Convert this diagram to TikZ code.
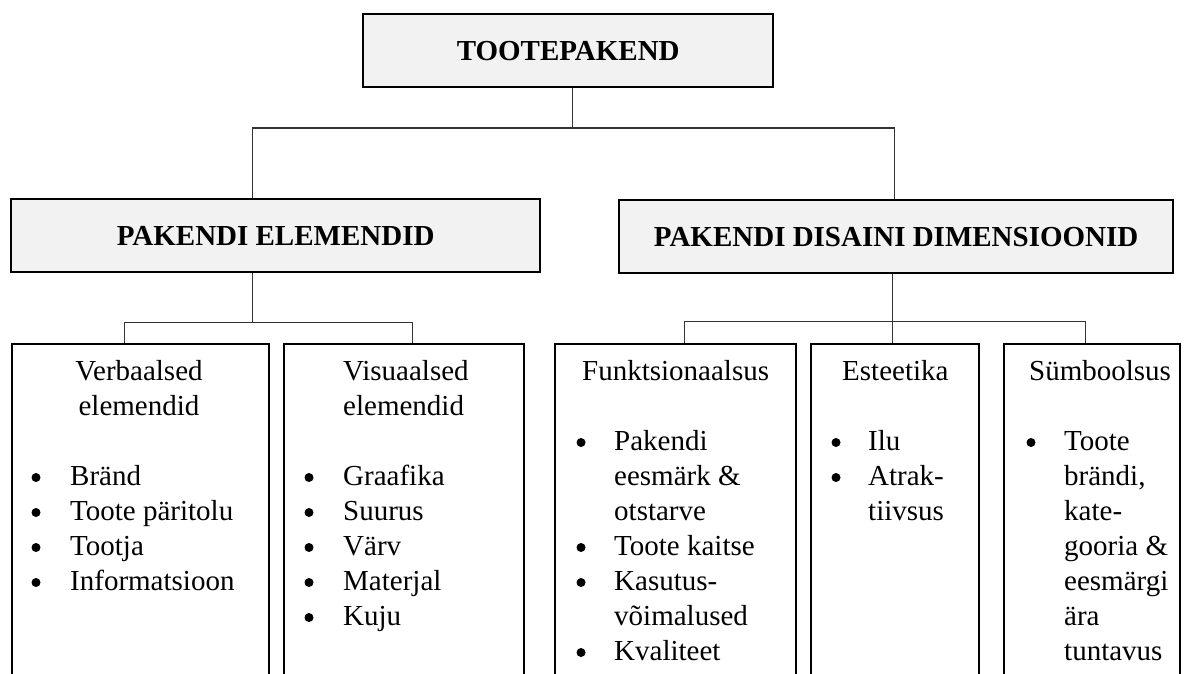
\documentclass[tikz,border=0pt]{standalone}
\usepackage{fontspec}
\setmainfont{Liberation Serif}
\definecolor{headfill}{HTML}{F2F2F2}
\begin{document}
\begin{tikzpicture}[x=1pt,y=-1pt,
  box/.style={draw=black, line width=2.4pt, rectangle, inner sep=0pt, anchor=north west},
  headbox/.style={box, fill=headfill, font=\fontsize{29}{35}\selectfont\bfseries},
  conn/.style={draw=black!80, line width=1.2pt},
  txt/.style={anchor=base west, inner sep=0pt, font=\fontsize{29}{35}\selectfont},
  ctxt/.style={txt, anchor=base},
  bul/.style={circle, fill=black, inner sep=0pt, minimum size=9pt, yshift=7.5pt}]
\useasboundingbox (0,0) rectangle (1184,673);
\fill[white] (0,0) rectangle (1184,673);
\clip (0,0) rectangle (1184,673);

% top level and second level
\node[headbox, minimum width=410pt, minimum height=73pt] (top) at (362,13) {TOOTEPAKEND};
\node[headbox, minimum width=529pt, minimum height=73pt] (mid1) at (10,198) {PAKENDI ELEMENDID};
\node[headbox, minimum width=554pt, minimum height=73pt] (mid2) at (618,199) {PAKENDI DISAINI DIMENSIOONID};

% third level columns (open at the bottom)
\node[box, minimum width=257pt, minimum height=400pt] (bx1) at (11,343) {};
\node[box, minimum width=240pt, minimum height=400pt] (bx2) at (283,343) {};
\node[box, minimum width=241pt, minimum height=400pt] (bx3) at (554,343) {};
\node[box, minimum width=168pt, minimum height=400pt] (bx4) at (810,343) {};
\node[box, minimum width=176pt, minimum height=400pt] (bx5) at (1003,343) {};

% connectors
\draw[conn] ([xshift=4pt]top.south) -- ++(0,39.5) -| ([xshift=-23.5pt]mid1.north);
\draw[conn] ([xshift=4pt]top.south) -- ++(0,39.5) -| ([xshift=-2pt]mid2.north);
\draw[conn] ([xshift=-23.5pt]mid1.south) -- ++(0,49) -| ([xshift=-16.5pt]bx1.north);
\draw[conn] ([xshift=-23.5pt]mid1.south) -- ++(0,49) -| ([xshift=8pt]bx2.north);
\draw[conn] ([xshift=-4pt]mid2.south) -- ([xshift=-3pt]bx4.north);
\draw[conn] ([xshift=-4pt]mid2.south) -- ++(0,47) -| ([xshift=8.5pt]bx3.north);
\draw[conn] ([xshift=-4pt]mid2.south) -- ++(0,47) -| ([xshift=-7pt]bx5.north);

% column 1
\node[ctxt] (v1) at (139,380) {Verbaalsed};
\node[ctxt] (v2) at (139,415) {elemendid};
\node[bul] (vb1) at (36,485) {};  \node[txt] (vt1) at (70,485) {Bränd};
\node[bul] (vb2) at (36,520) {};  \node[txt] (vt2) at (70,520) {Toote päritolu};
\node[bul] (vb3) at (36,555) {};  \node[txt] (vt3) at (70,555) {Tootja};
\node[bul] (vb4) at (36,590) {};  \node[txt] (vt4) at (70,590) {Informatsioon};

% column 2
\node[txt] (w1) at (343,380) {Visuaalsed};
\node[txt] (w2) at (343,415) {elemendid};
\node[bul] (wb1) at (309,485) {};  \node[txt] (wt1) at (343,485) {Graafika};
\node[bul] (wb2) at (309,520) {};  \node[txt] (wt2) at (343,520) {Suurus};
\node[bul] (wb3) at (309,555) {};  \node[txt] (wt3) at (343,555) {Värv};
\node[bul] (wb4) at (309,590) {};  \node[txt] (wt4) at (343,590) {Materjal};
\node[bul] (wb5) at (309,625) {};  \node[txt] (wt5) at (343,625) {Kuju};

% column 3
\node[txt] (f1) at (582,380) {Funktsionaalsus};
\node[bul] (fb1) at (581,450) {};  \node[txt] (ft1) at (614,450) {Pakendi};
\node[txt] (ft2) at (614,485) {eesmärk \&};
\node[txt] (ft3) at (614,520) {otstarve};
\node[bul] (fb4) at (581,555) {};  \node[txt] (ft4) at (614,555) {Toote kaitse};
\node[bul] (fb5) at (581,590) {};  \node[txt] (ft5) at (614,590) {Kasutus-};
\node[txt] (ft6) at (614,625) {võimalused};
\node[bul] (fb7) at (581,660) {};  \node[txt] (ft7) at (614,660) {Kvaliteet};

% column 4
\node[txt] (e1) at (842,380) {Esteetika};
\node[bul] (eb1) at (836,450) {};  \node[txt] (et1) at (868,450) {Ilu};
\node[bul] (eb2) at (836,485) {};  \node[txt] (et2) at (868,485) {Atrak-};
\node[txt] (et3) at (868,520) {tiivsus};

% column 5
\node[txt] (s1) at (1029,380) {Sümboolsus};
\node[bul] (sb1) at (1031,450) {};  \node[txt] (st1) at (1064,450) {Toote};
\node[txt] (st2) at (1064,485) {brändi,};
\node[txt] (st3) at (1064,520) {kate-};
\node[txt] (st4) at (1064,555) {gooria \&};
\node[txt] (st5) at (1064,590) {eesmärgi};
\node[txt] (st6) at (1064,625) {ära};
\node[txt] (st7) at (1064,660) {tuntavus};
\end{tikzpicture}
\end{document}
